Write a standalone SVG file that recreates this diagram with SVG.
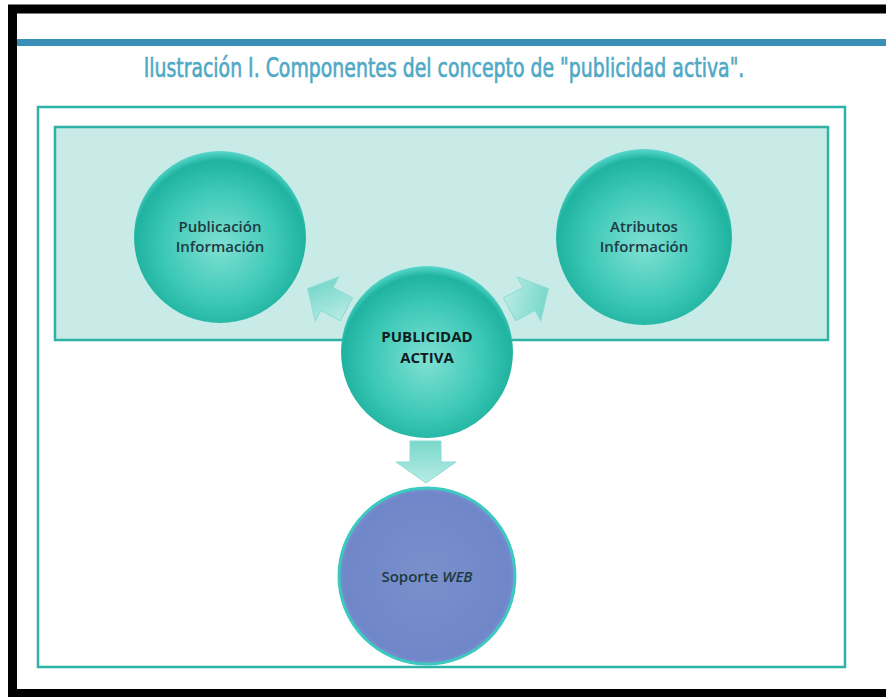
<svg xmlns="http://www.w3.org/2000/svg" width="886" height="697" viewBox="0 0 886 697">
<defs>
<radialGradient id="tealBall" cx="50%" cy="55%" r="55%">
<stop offset="0" stop-color="#7fe0d4"/>
<stop offset="0.6" stop-color="#3cc8b6"/>
<stop offset="0.9" stop-color="#1fb3a0"/>
<stop offset="1" stop-color="#5ad8cc"/>
</radialGradient>
<radialGradient id="blueBall" cx="50%" cy="50%" r="55%">
<stop offset="0" stop-color="#7a90cc"/>
<stop offset="0.85" stop-color="#6f86c8"/>
<stop offset="1" stop-color="#8a9ee0"/>
</radialGradient>
<linearGradient id="arrowFill" x1="0" y1="0" x2="1" y2="1">
<stop offset="0" stop-color="#c4f0ea"/>
<stop offset="1" stop-color="#62d0c2"/>
</linearGradient>
<linearGradient id="arrowDown" x1="0" y1="0" x2="0" y2="1">
<stop offset="0" stop-color="#7ad8cc"/>
<stop offset="1" stop-color="#b8ece6"/>
</linearGradient>
<path id="blockArrow" d="M-22,-13 L0,-13 L0,-25 L22,0 L0,25 L0,13 L-22,13 Z"/>
<style>
.frame{fill:none;stroke:#000;stroke-width:9}
.lbl{font-family:"Open Sans","Liberation Sans",sans-serif;font-size:15px;font-weight:600;fill:#1d3a40;text-anchor:middle}
.bold{font-weight:bold;fill:#0f1c20}
.ball{fill:url(#tealBall)}
.arrow{fill:url(#arrowFill);stroke:#8fdcd2;stroke-width:1}
</style>
</defs>
<rect width="886" height="697" fill="#ffffff"/>
<rect class="frame" x="12.5" y="9" width="890" height="684.5"/>
<rect x="17" y="39" width="869" height="7" fill="#3a8fb8"/>
<text x="444" y="62" transform="scale(1,1.24)" text-anchor="middle" font-family="'DejaVu Sans Condensed','Liberation Sans',sans-serif" font-size="21" fill="#4fa9c6" stroke="#4fa9c6" stroke-width="0.5">Ilustración I. Componentes del concepto de "publicidad activa".</text>
<rect x="38" y="107" width="807" height="560" fill="#ffffff" stroke="#2cb3a6" stroke-width="2.5"/>
<rect x="55" y="127" width="773" height="213" fill="#c9ebe8" stroke="#2cb3a6" stroke-width="2.5"/>
<g id="connectors">
<use href="#blockArrow" class="arrow" transform="translate(327,299) rotate(208)"/>
<use href="#blockArrow" class="arrow" transform="translate(529,299) rotate(-28)"/>
<path class="arrow" style="fill:url(#arrowDown)" d="M410,441 L441,441 L441,462 L456,462 L426,483 L396,462 L410,462 Z"/>
</g>
<g id="publicacion">
<circle class="ball" cx="220" cy="237" r="86"/>
<text class="lbl" x="220" y="232">Publicación</text>
<text class="lbl" x="220" y="252">Información</text>
</g>
<g id="atributos">
<circle class="ball" cx="644" cy="237" r="88"/>
<text class="lbl" x="644" y="232">Atributos</text>
<text class="lbl" x="644" y="252">Información</text>
</g>
<g id="publicidad">
<circle class="ball" cx="427" cy="352" r="86"/>
<text class="lbl bold" x="427" y="342">PUBLICIDAD</text>
<text class="lbl bold" x="427" y="363">ACTIVA</text>
</g>
<g id="soporte">
<circle cx="427" cy="576" r="88" fill="url(#blueBall)" stroke="#3cc9bf" stroke-width="3"/>
<text class="lbl" x="427" y="582" fill="#1c2a44">Soporte <tspan font-style="italic">WEB</tspan></text>
</g>
</svg>
